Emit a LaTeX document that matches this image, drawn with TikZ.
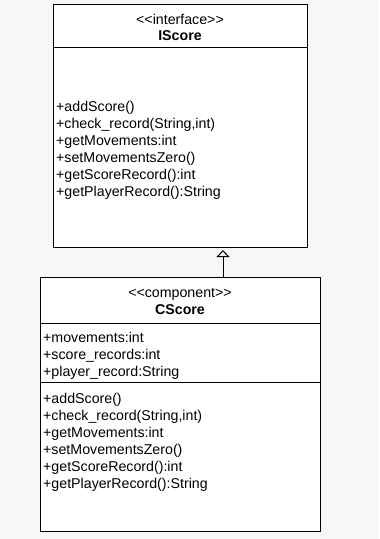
\documentclass[tikz,border=0pt]{standalone}
\usepackage{fontspec}
\setmainfont{Liberation Sans}
\usetikzlibrary{arrows.meta}

\definecolor{paper}{HTML}{F7F7F7}

\begin{document}
\begin{tikzpicture}[x=1bp, y=-1bp,
  classbox/.style={draw, fill=white, line width=1bp, inner sep=0pt, anchor=north west},
  member/.style={inner sep=0pt, anchor=base west, font=\fontsize{14.2bp}{17bp}\selectfont},
  stereo/.style={inner sep=0pt, anchor=base, font=\fontsize{14.2bp}{17bp}\selectfont},
  realize/.style={-{Triangle[open, length=7bp, width=13bp]}, line width=1bp}]

\fill[paper] (0, 0) rectangle (379, 539);
\useasboundingbox (0, 0) rectangle (379, 539);

% interface IScore
\node[classbox, minimum width=254bp, minimum height=243bp] (iscore) at (53, 4) {};
\draw[line width=1bp] (53, 48) -- (307, 48);
\node[stereo] (iStereo) at (180, 25) {{<}{<}interface{>}{>}};
\node[stereo, font=\fontsize{14.2bp}{17bp}\selectfont\bfseries] (iName) at (180, 41) {IScore};

\node[member] (iAdd) at (56, 112) {+addScore()};
\node[member] (iCheck) at (56, 129) {+check\_record(String,int)};
\node[member] (iGetMov) at (56, 146) {+getMovements:int};
\node[member] (iSetZero) at (56, 163) {+setMovementsZero()};
\node[member] (iGetScore) at (56, 180) {+getScoreRecord():int};
\node[member] (iGetPlayer) at (56, 197) {+getPlayerRecord():String};

% component CScore
\node[classbox, minimum width=280bp, minimum height=254bp] (cscore) at (40, 277) {};
\draw[line width=1bp] (40, 323) -- (320, 323);
\draw[line width=1bp] (40, 382) -- (320, 382);
\node[stereo] (cStereo) at (180, 297) {{<}{<}component{>}{>}};
\node[stereo, font=\fontsize{14.2bp}{17bp}\selectfont\bfseries] (cName) at (180, 314) {CScore};

\node[member] (cMov) at (43, 342) {+movements:int};
\node[member] (cScores) at (43, 359) {+score\_records:int};
\node[member] (cPlayer) at (43, 376) {+player\_record:String};

\node[member] (cAdd) at (43, 403) {+addScore()};
\node[member] (cCheck) at (43, 420) {+check\_record(String,int)};
\node[member] (cGetMov) at (43, 437) {+getMovements:int};
\node[member] (cSetZero) at (43, 454) {+setMovementsZero()};
\node[member] (cGetScore) at (43, 471) {+getScoreRecord():int};
\node[member] (cGetPlayer) at (43, 488) {+getPlayerRecord():String};

% realization
\draw[realize, shorten >=2bp] (cscore.north -| 223, 0) -- (iscore.south -| 223, 0);
\end{tikzpicture}
\end{document}
